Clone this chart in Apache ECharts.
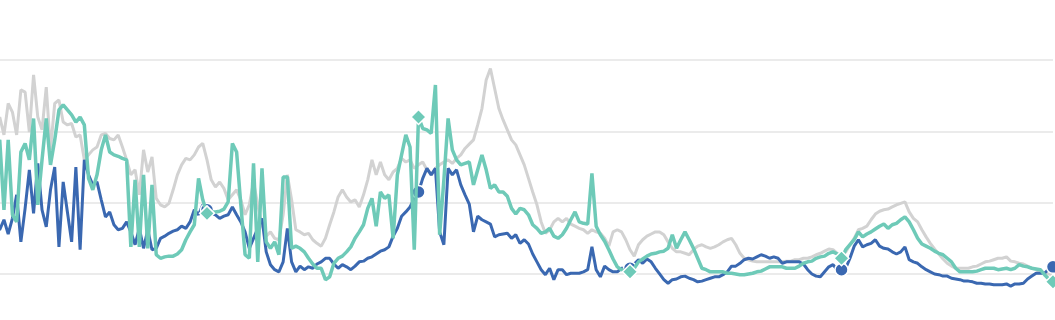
<!DOCTYPE html>
<html>
<head>
<meta charset="utf-8">
<script src="https://cdn.jsdelivr.net/npm/echarts@6/dist/echarts.min.js"></script>
<style>
html,body{margin:0;padding:0;background:#fff;}
#chart{width:1055px;height:320px;}
</style>
</head>
<body>
<div id="chart"></div>
<script>
// Series values (index-ordered observations, 251 points)
const blueValues = [
6.4,6.2,7.6,5.6,7.8,11.1,4.5,9.2,14.6,8.5,
15.5,9.0,6.6,11.8,15.0,3.8,12.9,8.7,4.5,15.0,
3.4,16.0,13.9,12.5,12.9,10.4,8.0,8.7,6.9,6.2,
6.4,7.3,5.9,4.1,6.4,3.6,6.2,3.4,3.6,5.0,
5.3,5.7,6.0,6.2,6.7,6.4,7.3,9.0,8.3,9.7,
9.0,8.4,8.3,7.8,8.1,8.3,9.4,8.3,7.3,5.9,
3.6,5.0,6.4,7.8,3.1,1.3,0.6,0.3,1.7,6.4,
1.7,0.3,1.1,0.6,1.0,0.8,1.4,1.7,2.2,2.2,
1.4,0.8,1.3,1.0,0.6,1.1,1.7,1.8,2.2,2.4,
2.8,3.2,3.4,3.8,5.3,6.4,8.1,8.7,9.4,10.6,
11.5,13.4,14.8,13.9,14.8,5.9,4.1,14.8,13.9,14.6,
12.5,11.1,9.8,5.9,8.1,7.6,7.3,7.0,5.2,5.5,
5.6,5.7,5.0,5.5,4.3,4.8,4.2,2.8,1.7,0.6,
-0.1,0.8,-0.8,0.6,0.6,-0.1,0.1,0.1,0.1,0.3,
0.6,3.8,0.6,-0.4,1.1,0.6,0.3,0.3,0.8,0.8,
0.8,1.4,2.0,1.5,2.1,1.7,0.8,0.0,-0.8,-1.3,
-0.8,-0.7,-0.4,-0.3,-0.6,-0.8,-1.1,-1.0,-0.8,-0.6,
-0.4,-0.4,-0.1,0.3,1.1,1.1,1.5,2.0,2.2,2.1,
2.4,2.7,2.5,2.2,2.4,2.2,1.5,1.7,1.7,1.7,
1.7,1.4,0.6,0.0,-0.3,-0.4,0.3,1.0,1.3,0.6,
0.6,0.8,2.2,3.9,4.8,3.8,4.1,4.3,4.8,3.9,
3.6,3.5,3.1,2.8,3.1,3.8,2.0,1.7,1.5,1.0,
0.6,0.3,0.0,-0.1,-0.3,-0.3,-0.6,-0.7,-0.8,-1.0,
-1.0,-1.1,-1.3,-1.3,-1.4,-1.4,-1.5,-1.5,-1.5,-1.4,
-1.7,-1.4,-1.4,-1.3,-0.7,-0.3,0.1,0.1,0.1,0.7,
1.0
];
const tealValues = [
17.4,18.8,9.0,18.8,8.3,7.3,17.1,18.3,16.0,21.8,
9.7,16.0,21.8,15.3,18.8,23.0,23.7,23.0,22.3,21.3,
22.0,20.9,13.4,11.8,13.9,17.4,19.5,17.1,16.7,16.5,
16.2,16.0,3.8,13.2,3.8,13.9,3.6,12.5,2.7,2.2,
2.4,2.5,2.5,2.8,3.4,4.8,5.9,6.9,13.4,10.4,
8.5,8.7,8.7,8.8,9.1,10.1,18.3,17.1,9.7,2.7,
2.2,15.5,1.7,14.8,4.5,3.6,4.5,2.7,13.6,13.6,
3.6,3.9,3.6,3.1,2.2,1.4,0.8,0.8,-0.8,-0.4,
1.5,2.2,2.5,3.1,3.8,5.0,5.9,6.9,9.2,10.6,
6.7,11.5,10.6,11.1,5.0,13.9,16.7,19.5,17.8,3.4,
22.0,20.4,20.2,19.7,26.5,5.5,13.2,21.8,17.4,16.0,
15.3,15.5,15.7,12.5,14.6,16.7,14.6,12.0,12.5,11.5,
11.5,10.9,9.2,8.4,9.2,9.0,8.3,6.9,6.4,5.7,
5.9,6.4,5.3,5.0,5.5,6.4,7.6,8.7,7.3,7.1,
7.0,14.1,6.7,5.5,4.6,3.4,2.1,1.0,0.6,0.4,
0.3,0.8,1.7,2.1,2.5,2.8,2.9,3.1,3.2,3.6,
5.5,3.6,4.8,5.9,4.8,3.6,2.2,0.8,0.6,0.3,
0.3,0.3,0.3,0.1,0.1,0.0,-0.1,-0.1,0.0,0.1,
0.3,0.4,0.7,1.0,1.0,1.0,1.0,0.8,0.8,0.8,
1.1,1.5,1.7,1.8,2.2,2.4,2.5,2.9,3.1,2.8,
2.2,3.4,4.1,4.8,5.9,5.2,5.6,5.9,6.3,6.7,
7.0,6.4,6.9,7.1,7.6,8.0,7.3,6.2,5.0,4.2,
3.9,3.6,3.2,2.9,2.7,2.2,1.7,0.8,0.3,0.3,
0.3,0.3,0.4,0.6,0.8,0.8,0.8,0.6,0.7,0.8,
0.6,0.8,1.3,1.1,1.0,0.8,0.7,0.6,-0.1,-0.7,
-1.1
];
const grayValues = [
20.2,22.0,19.5,23.9,22.7,19.5,25.8,25.5,19.9,27.9,
22.0,20.2,26.2,17.4,23.9,24.4,21.3,20.9,21.1,19.2,
19.5,16.0,16.7,17.4,17.8,19.5,19.7,19.0,18.8,19.5,
17.8,16.0,13.9,14.6,11.1,17.4,14.3,16.4,10.6,9.7,
9.4,9.9,11.8,13.9,15.3,16.2,16.0,16.7,17.8,18.3,
16.0,13.2,12.2,12.9,12.0,10.4,11.1,11.8,10.4,8.3,
9.7,12.9,9.7,6.9,5.3,5.9,5.0,4.8,8.3,13.9,
10.4,6.2,5.9,5.5,5.7,4.8,4.3,3.9,5.0,6.9,
8.7,10.8,11.8,10.8,10.1,10.4,9.4,11.1,13.2,16.0,
13.9,15.7,13.9,13.2,14.3,14.8,16.2,15.7,16.0,14.8,
15.3,15.7,14.6,13.9,14.8,15.3,15.7,16.0,15.5,16.2,
16.7,17.6,18.2,18.8,20.9,23.2,27.2,28.8,26.0,23.2,
21.6,20.2,18.8,18.1,16.7,15.3,13.4,11.5,9.7,7.3,
5.7,6.2,7.3,7.8,7.3,7.8,7.0,6.7,6.4,6.2,
5.7,6.2,5.9,5.7,5.0,3.9,5.9,6.2,5.9,4.8,
3.4,2.5,4.1,4.8,5.3,5.6,5.9,5.9,5.5,4.5,
3.6,3.1,3.1,2.9,2.7,3.4,3.9,4.1,3.8,3.6,
3.8,4.1,4.5,4.8,5.0,4.1,2.9,2.2,2.0,1.8,
1.7,1.7,1.7,1.7,1.7,1.7,1.7,1.8,1.8,2.0,
2.0,2.2,2.2,2.4,2.7,2.9,3.2,3.5,3.4,2.9,
2.4,3.1,4.1,5.0,6.2,6.4,6.7,7.6,8.4,8.8,
9.0,9.1,9.4,9.7,9.9,10.1,8.7,7.8,7.3,6.2,
5.2,4.3,3.5,2.8,2.1,1.5,1.1,0.8,0.8,0.8,
0.8,1.0,1.1,1.4,1.7,1.8,2.0,2.2,2.2,2.4,
1.8,1.7,1.5,1.4,1.1,0.8,0.6,0.3,0.1,0.0,
-0.1
];
// Indices carrying point markers
const markerIndices = [50, 100, 150, 200, 250];
// Category labels (observation numbers)
const categories = blueValues.map((_, i) => String(i + 1));
// Value axis ticks
const yTicks = [-10, 0, 10, 20, 30];

const BLUE = '#3a68b1';
const TEAL = '#6ecab8';
const GRAY = '#d2d2d2';

function withMarkers(values, symbol, size, color) {
  return values.map((v, i) => markerIndices.includes(i)
    ? { value: v, symbol: symbol, symbolSize: size,
        itemStyle: { color: color, borderColor: '#ffffff', borderWidth: 1.5 } }
    : v);
}

const chart = echarts.init(document.getElementById('chart'), null, { renderer: 'canvas' });
chart.setOption({
  animation: false,
  backgroundColor: '#ffffff',
  grid: { left: -4.5, top: 60, width: 1057.5, height: 285.3,
          containLabel: false, outerBoundsMode: 'none' },
  xAxis: {
    type: 'category', data: categories, boundaryGap: false,
    axisLine: { show: false }, axisTick: { show: false }, axisLabel: { show: false },
    splitLine: { show: false }
  },
  yAxis: {
    type: 'value', min: yTicks[0], max: yTicks[yTicks.length - 1], interval: 10,
    axisLine: { show: false }, axisTick: { show: false }, axisLabel: { show: false },
    splitLine: { show: true, lineStyle: { color: '#e4e4e4', width: 1.5 } }
  },
  series: [
    { name: 'Gray', type: 'line', data: grayValues, symbol: 'none', z: 1,
      lineStyle: { color: GRAY, width: 3 } },
    { name: 'Blue', type: 'line', data: withMarkers(blueValues, 'circle', 13, BLUE),
      symbol: 'none', showSymbol: true, showAllSymbol: true, z: 2,
      itemStyle: { color: BLUE }, lineStyle: { color: BLUE, width: 3 } },
    { name: 'Teal', type: 'line', data: withMarkers(tealValues, 'diamond', 15, TEAL),
      symbol: 'none', showSymbol: true, showAllSymbol: true, z: 3,
      itemStyle: { color: TEAL }, lineStyle: { color: TEAL, width: 3.5 } }
  ]
});
</script>
</body>
</html>
